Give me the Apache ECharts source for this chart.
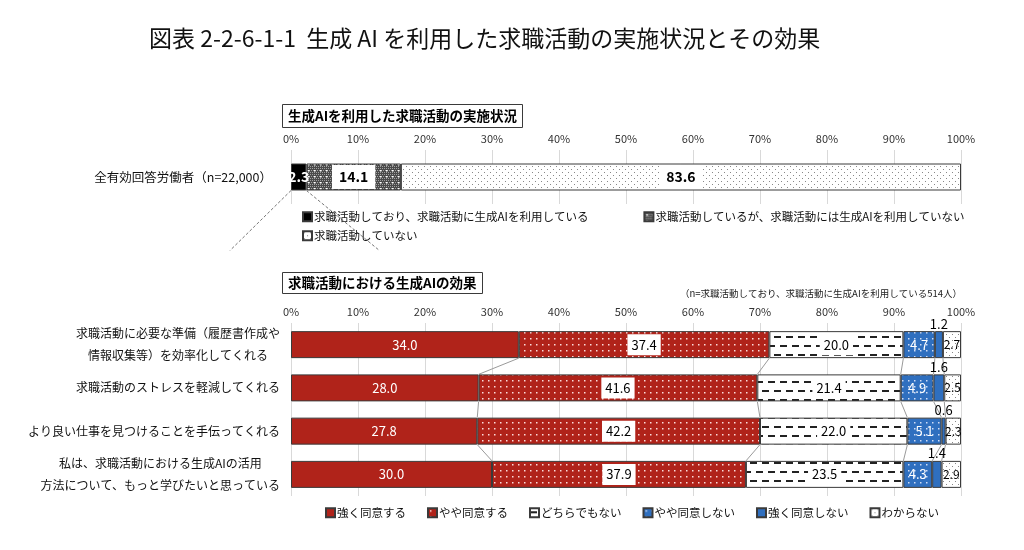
<!DOCTYPE html>
<html style="height: 100%">
<head>
    <meta charset="utf-8">
    <title>生成AIを利用した求職活動</title>
    <script src="https://cdn.jsdelivr.net/npm/echarts@6/dist/echarts.min.js"></script>
</head>
<body style="height: 100%; margin: 0; background: #fff">
<div id="main" style="width: 1024px; height: 550px"></div>
<script type="text/javascript">
    // 上段：実施状況
    var topCategory = ['全有効回答労働者（n=22,000）'];
    var topNames = ['求職活動しており、求職活動に生成AIを利用している',
        '求職活動しているが、求職活動には生成AIを利用していない',
        '求職活動していない'];
    var topValues = [2.3, 14.1, 83.6];

    // 下段：生成AIの効果
    var effectCategories = [
        '求職活動に必要な準備（履歴書作成や\n情報収集等）を効率化してくれる',
        '求職活動のストレスを軽減してくれる',
        'より良い仕事を見つけることを手伝ってくれる',
        '私は、求職活動における生成AIの活用\n方法について、もっと学びたいと思っている'
    ];
    var answerNames = ['強く同意する', 'やや同意する', 'どちらでもない', 'やや同意しない', '強く同意しない', 'わからない'];
    var strongAgree = [34.0, 28.0, 27.8, 30.0];
    var agree = [37.4, 41.6, 42.2, 37.9];
    var neutral = [20.0, 21.4, 22.0, 23.5];
    var disagree = [4.7, 4.9, 5.1, 4.3];
    var strongDisagree = [1.2, 1.6, 0.6, 1.4];
    var unknown = [2.7, 2.5, 2.3, 2.9];

    var xTicks = [0, 10, 20, 30, 40, 50, 60, 70, 80, 90, 100];

    var FONT = '"Noto Sans CJK JP", "Noto Sans", sans-serif';
    var BORDER = '#3a3a3a';
    var RED = '#b0231a';
    var BLUE = '#2f6fbf';
    var BAR_H = 27;

    // 模様（パターン）
    function pattern(w, h, bg, draw) {
        var c = document.createElement('canvas');
        c.width = w;
        c.height = h;
        var ctx = c.getContext('2d');
        ctx.fillStyle = bg;
        ctx.fillRect(0, 0, w, h);
        draw(ctx);
        return {image: c, repeat: 'repeat'};
    }
    function dots(bg, fg, step) {
        return pattern(step, step, bg, function (ctx) {
            ctx.fillStyle = fg;
            ctx.fillRect(2, 2, 1.5, 1.5);
        });
    }
    var redDots = dots(RED, 'rgba(255,230,230,0.95)', 6);
    var blueDots = dots(BLUE, 'rgba(235,240,255,0.85)', 6);
    var sparseDots = pattern(6, 6, '#fff', function (ctx) {
        ctx.fillStyle = '#888';
        ctx.fillRect(1, 1, 1, 1);
        ctx.fillRect(4, 4, 1, 1);
    });
    var dashes = pattern(12, 18, '#fff', function (ctx) {
        ctx.fillStyle = '#222';
        ctx.fillRect(0, 3, 7, 2);
        ctx.fillRect(6, 12, 7, 2);
        ctx.fillRect(-6, 12, 7, 2);
    });
    var darkMesh = pattern(6, 6, '#4a4a4a', function (ctx) {
        ctx.fillStyle = '#a0a0a0';
        for (var i = 0; i < 6; i += 2) {
            for (var j = 0; j < 6; j += 2) {
                ctx.fillRect(i + ((j / 2) % 2), j, 1, 1);
            }
        }
        ctx.fillStyle = '#fff';
        ctx.fillRect(2, 2, 1.5, 1.5);
    });

    function cumulative(arrays) {
        var out = [];
        var run = arrays[0].map(function () { return 0; });
        arrays.forEach(function (arr) {
            run = run.map(function (v, i) { return v + arr[i]; });
            out.push(run.slice());
        });
        return out;
    }
    var effectSeries = [strongAgree, agree, neutral, disagree, strongDisagree, unknown];
    var bounds = cumulative(effectSeries).slice(0, 5);

    function numLabel(v) {
        return v.value.toFixed(1);
    }

    var whiteBox = {
        show: true, color: '#000', fontSize: 13, fontFamily: FONT,
        backgroundColor: '#fff', padding: [4, 4], formatter: numLabel
    };
    var plainWhite = {show: true, color: '#fff', fontSize: 13, fontFamily: FONT, formatter: numLabel};

    var effectStyles = [
        {color: RED, label: plainWhite},
        {color: redDots, label: whiteBox},
        {color: dashes, label: whiteBox},
        {color: blueDots, label: plainWhite},
        {color: BLUE, label: {show: true, position: 'top', distance: 1, color: '#000', fontSize: 13, fontFamily: FONT, formatter: numLabel}},
        {color: sparseDots, label: {show: true, color: '#000', fontSize: 12, fontFamily: FONT, formatter: numLabel}}
    ];
    var topStyles = [
        {color: '#000', label: {show: true, color: '#fff', fontWeight: 'bold', fontSize: 14, fontFamily: FONT, formatter: numLabel}},
        {color: darkMesh, label: {show: true, color: '#000', fontWeight: 'bold', fontSize: 14, fontFamily: FONT, backgroundColor: '#fff', padding: [5, 7], formatter: numLabel}},
        {color: sparseDots, label: {show: true, color: '#000', fontWeight: 'bold', fontSize: 14, fontFamily: FONT, backgroundColor: '#fff', padding: [5, 7], formatter: numLabel}}
    ];

    var series = [];
    topNames.forEach(function (name, k) {
        series.push({
            name: name, type: 'bar', stack: 'top', xAxisIndex: 0, yAxisIndex: 0,
            barWidth: BAR_H, data: [topValues[k]],
            itemStyle: {color: topStyles[k].color, borderColor: BORDER, borderWidth: 1},
            label: topStyles[k].label, emphasis: {disabled: true}
        });
    });
    answerNames.forEach(function (name, k) {
        series.push({
            name: name, type: 'bar', stack: 'effect', xAxisIndex: 1, yAxisIndex: 1,
            barWidth: BAR_H, data: effectSeries[k],
            itemStyle: {color: effectStyles[k].color, borderColor: BORDER, borderWidth: 1},
            label: effectStyles[k].label, emphasis: {disabled: true}
        });
    });

    // 系列線（行の間をつなぐ線）
    series.push({
        type: 'custom', xAxisIndex: 1, yAxisIndex: 1, silent: true, clip: false, z: 1,
        data: [[0, 0], [0, 1], [0, 2]],
        encode: {x: 0, y: 1},
        renderItem: function (params, api) {
            var row = api.value(1);
            var children = bounds.map(function (b) {
                var p1 = api.coord([b[row], row]);
                var p2 = api.coord([b[row + 1], row + 1]);
                return {
                    type: 'line',
                    shape: {x1: p1[0], y1: p1[1] + BAR_H / 2, x2: p2[0], y2: p2[1] - BAR_H / 2},
                    style: {stroke: '#9a9a9a', lineWidth: 1}
                };
            });
            return {type: 'group', children: children};
        }
    });

    // 上段から下段への引き出し線
    series.push({
        type: 'custom', xAxisIndex: 0, yAxisIndex: 0, silent: true, clip: false, z: 1,
        data: [[0, 0]],
        encode: {x: 0, y: 1},
        renderItem: function (params, api) {
            var a = api.coord([0, 0]);
            var b = api.coord([topValues[0], 0]);
            var y = a[1] + BAR_H / 2;
            var st = {stroke: '#777', lineWidth: 1, lineDash: [3, 2]};
            return {
                type: 'group', children: [
                    {type: 'line', shape: {x1: a[0], y1: y, x2: a[0] - 61, y2: y + 60}, style: st},
                    {type: 'line', shape: {x1: b[0], y1: y, x2: b[0] + 73, y2: y + 60}, style: st}
                ]
            };
        }
    });

    var xAxisBase = {
        type: 'value', min: 0, max: 100, interval: 10, position: 'top',
        axisLine: {show: false}, axisTick: {show: false},
        splitLine: {lineStyle: {color: '#d9d9d9'}},
        axisLabel: {
            color: '#333', fontSize: 11, fontFamily: FONT, margin: 6,
            formatter: function (v) { return xTicks.indexOf(v) >= 0 ? v + '%' : ''; }
        }
    };

    var legendText = {fontSize: 11.5, color: '#111', fontFamily: FONT, padding: [0, 0, 0, -3]};

    var option = {
        backgroundColor: '#fff',
        animation: false,
        title: [
            {
                text: '図表 2-2-6-1-1  生成 AI を利用した求職活動の実施状況とその効果',
                left: 144, top: 22,
                textStyle: {fontSize: 23, fontWeight: 'normal', color: '#111', fontFamily: FONT}
            },
            {
                text: '生成AIを利用した求職活動の実施状況',
                left: 282, top: 104, padding: [5, 6],
                borderColor: BORDER, borderWidth: 1,
                textStyle: {fontSize: 13.5, fontWeight: 'bold', color: '#000', fontFamily: FONT}
            },
            {
                text: '求職活動における生成AIの効果',
                left: 282, top: 272, padding: [4, 6],
                borderColor: BORDER, borderWidth: 1,
                textStyle: {fontSize: 13.5, fontWeight: 'bold', color: '#000', fontFamily: FONT}
            },
            {
                text: '（n=求職活動しており、求職活動に生成AIを利用している514人）',
                right: 62, top: 289, padding: 0,
                textStyle: {fontSize: 9.5, fontWeight: 'normal', color: '#222', fontFamily: FONT}
            }
        ],
        legend: [
            {
                data: [topNames[0], topNames[1]], left: 297, top: 206, icon: 'rect',
                itemWidth: 9, itemHeight: 9, itemGap: 55,
                textStyle: legendText
            },
            {
                data: [topNames[2]], left: 297, top: 225, icon: 'rect',
                itemWidth: 9, itemHeight: 9,
                textStyle: legendText
            },
            {
                data: answerNames, left: 320, top: 502, icon: 'rect',
                itemWidth: 9, itemHeight: 9, itemGap: 21,
                textStyle: legendText
            }
        ],
        grid: [
            {left: 291, right: 63, top: 150, height: 54},
            {left: 291, right: 63, top: 323, height: 173}
        ],
        xAxis: [
            Object.assign({gridIndex: 0}, xAxisBase),
            Object.assign({gridIndex: 1}, xAxisBase)
        ],
        yAxis: [
            {
                type: 'category', gridIndex: 0, data: topCategory, inverse: true,
                axisLine: {show: false}, axisTick: {show: false},
                axisLabel: {color: '#111', fontSize: 12.5, fontFamily: FONT, margin: 19}
            },
            {
                type: 'category', gridIndex: 1, data: effectCategories, inverse: true,
                axisLine: {show: false}, axisTick: {show: false},
                axisLabel: {
                    color: '#111', fontSize: 12, fontFamily: FONT, margin: 11, align: 'right',
                    formatter: function (v) {
                        return v.split('\n').map(function (l) { return '{a|' + l + '}'; }).join('\n');
                    },
                    rich: {a: {align: 'center', fontSize: 12, lineHeight: 22, color: '#111', fontFamily: FONT}}
                }
            }
        ],
        series: series
    };

    var myChart = echarts.init(document.getElementById('main'));
    myChart.setOption(option);
</script>
</body>
</html>
